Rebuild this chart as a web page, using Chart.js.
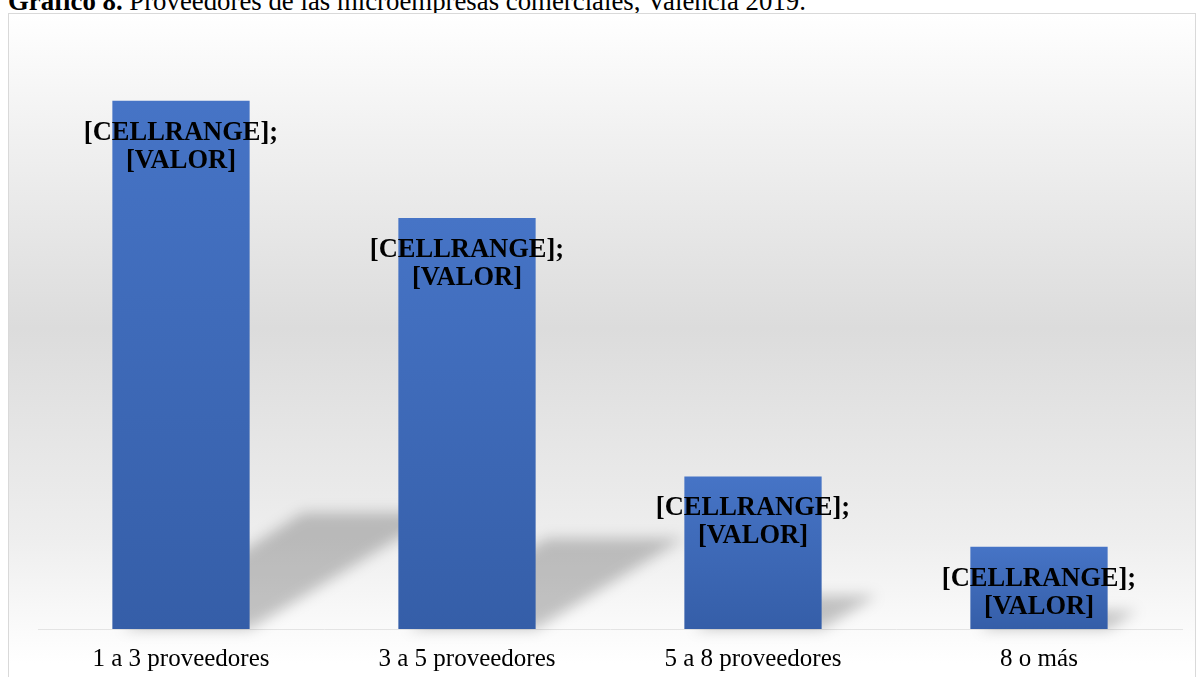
<!DOCTYPE html>
<html>
<head>
<meta charset="utf-8">
<script src="https://cdn.jsdelivr.net/npm/chart.js@4"></script>
<style>
    html, body { margin: 0; padding: 0; background: #fff; width: 1197px; height: 677px; overflow: hidden; }
    #title {
        position: absolute; left: 8px; top: -14px;
        font-family: 'Liberation Serif', 'Times New Roman', serif; font-size: 26.8px; color: #000; white-space: nowrap;
    }
    #frame {
        position: absolute; left: 8px; top: 13px; width: 1188px; height: 700px;
        border: 1px solid #d9d9d9; box-sizing: border-box; overflow: hidden;
        background: linear-gradient(to bottom, #ffffff 0%, #f1f1f1 17%, #dcdcdc 45%, #eeeeee 75%, #ffffff 93%);
    }
    #wrap { position: absolute; left: 0; top: 0; width: 1188px; height: 683px; }
</style>
</head>
<body>
<div id="title"><b>Gráfico 8.</b> Proveedores de las microempresas comerciales, Valencia 2019.</div>
<div id="frame">
    <div id="wrap"><canvas id="proveedoresChart"></canvas></div>
</div>
<script>
const categories = ['1 a 3 proveedores', '3 a 5 proveedores', '5 a 8 proveedores', '8 o más'];
const porcentajes = [45, 35, 13, 7];
const labelLines = ['[CELLRANGE];', '[VALOR]'];

const serif = "'Liberation Serif', 'Times New Roman', serif";

// perspective shadow behind each bar
const shadowPlugin = {
    id: 'barShadows',
    beforeDatasetsDraw(chart) {
        const ctx = chart.ctx;
        const meta = chart.getDatasetMeta(0);
        ctx.save();
        ctx.filter = 'blur(7px)';
        ctx.fillStyle = 'rgba(0,0,0,0.22)';
        meta.data.forEach(bar => {
            const h = bar.base - bar.y;
            const left = bar.x - bar.width / 2;
            const right = bar.x + bar.width / 2;
            const sh = h * 0.22;
            const shift = h * 0.36;
            ctx.beginPath();
            ctx.moveTo(left + 10, bar.base);
            ctx.lineTo(right, bar.base);
            ctx.lineTo(right + shift, bar.base - sh);
            ctx.lineTo(left + shift, bar.base - sh);
            ctx.closePath();
            ctx.fill();
        });
        ctx.restore();
    }
};

const labelPlugin = {
    id: 'cellLabels',
    afterDatasetsDraw(chart) {
        const ctx = chart.ctx;
        const meta = chart.getDatasetMeta(0);
        ctx.save();
        ctx.font = 'bold 26.5px ' + serif;
        ctx.fillStyle = '#000';
        ctx.textAlign = 'center';
        ctx.textBaseline = 'middle';
        meta.data.forEach(bar => {
            ctx.fillText(labelLines[0], bar.x, bar.y + 32);
            ctx.fillText(labelLines[1], bar.x, bar.y + 60);
        });
        ctx.restore();
    }
};

new Chart(document.getElementById('proveedoresChart'), {
    type: 'bar',
    data: {
        labels: categories,
        datasets: [{
            data: porcentajes,
            backgroundColor(c) {
                const chart = c.chart;
                if (!chart.chartArea) return '#4472C4';
                const y = chart.scales.y;
                const top = y.getPixelForValue(c.raw);
                const bottom = y.getPixelForValue(0);
                const g = chart.ctx.createLinearGradient(0, top, 0, bottom);
                g.addColorStop(0, '#4674c6');
                g.addColorStop(1, '#355ea8');
                return g;
            },
            borderWidth: 0,
            barPercentage: 0.48,
            categoryPercentage: 1
        }]
    },
    options: {
        responsive: true,
        maintainAspectRatio: false,
        animation: false,
        layout: { padding: { top: 28, left: 29, right: 15, bottom: 8 } },
        plugins: { legend: { display: false }, tooltip: { enabled: false } },
        scales: {
            x: {
                grid: { display: false, drawTicks: false },
                border: { display: true, color: '#e4e4e4' },
                ticks: { color: '#000', font: { family: serif, size: 25 }, padding: 15 }
            },
            y: { display: false, min: 0, max: 50 }
        }
    },
    plugins: [shadowPlugin, labelPlugin]
});
</script>
</body>
</html>
